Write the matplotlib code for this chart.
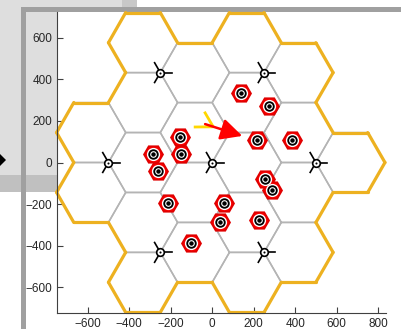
import matplotlib
matplotlib.use("Agg")
import matplotlib.pyplot as plt
from matplotlib.patches import Rectangle, Polygon
import numpy as np

# base stations (3-sector sites, inter-site distance 500)
bs_x = [0, 500, 250, -250, -500, -250, 250]
bs_y = [0, 0, 433, 433, 0, -433, -433]
R = 500 / 3.0
sector_angles = [0, 120, 240]

# users
ue_x = [140, 275, -154, 217, 386, -284, -149, -260, 255, 289, -212, 58, 39, 227, -101]
ue_y = [335, 272, 123, 108, 108, 41, 41, -41, -80, -133, -195, -195, -287, -277, -388]

# beam indication (yellow V and red arrow)
v_x = [-34, 5, -82]
v_y = [239, 172, 171]
arrow_start = (-34, 185)
arrow_end = (145, 128)

xticks = [-600, -400, -200, 0, 200, 400, 600, 800]
yticks = [-600, -400, -200, 0, 200, 400, 600]

W, H = 401, 329
fig = plt.figure(figsize=(W / 100, H / 100), dpi=100)
fig.patch.set_facecolor('white')


def px_rect(x0, y0, x1, y1, color, z=-2):
    fig.add_artist(Rectangle((x0 / W, 1 - y1 / H), (x1 - x0) / W, (y1 - y0) / H,
                             transform=fig.transFigure, facecolor=color,
                             edgecolor='none', zorder=z))


# window-like background pieces
px_rect(0, 0, 122, 175, '#dedede')
px_rect(122, 0, 137, 7, '#c8c8c8')
px_rect(0, 175, 57, 192, '#c0c0c0')
px_rect(21, 7, 401, 12, '#a0a0a0', z=-1)
px_rect(21, 7, 26, 329, '#a0a0a0', z=-1)
fig.add_artist(Polygon([(-6 / W, 1 - 160 / H), (0, 1 - 154 / H), (6 / W, 1 - 160 / H), (0, 1 - 166 / H)],
                       closed=True, transform=fig.transFigure, facecolor='black',
                       edgecolor='none', zorder=-1))

ax = fig.add_axes([57 / W, 1 - 313 / H, (386 - 57) / W, (313 - 12) / H])
ax.set_facecolor('white')

# hexagonal cells: each site sits on a vertex shared by its three sectors
edges = {}
for bx, by in zip(bs_x, bs_y):
    for a in sector_angles:
        cx = bx + R * np.cos(np.radians(a))
        cy = by + R * np.sin(np.radians(a))
        vx = cx + R * np.cos(np.radians(np.arange(0, 361, 60)))
        vy = cy + R * np.sin(np.radians(np.arange(0, 361, 60)))
        ax.plot(vx, vy, color='#b4b4b4', lw=1.1, zorder=1)
        for k in range(6):
            p = (round(vx[k]), round(vy[k]))
            q = (round(vx[k + 1]), round(vy[k + 1]))
            key = tuple(sorted([p, q]))
            edges[key] = edges.get(key, 0) + 1

for (p, q), n in edges.items():
    if n == 1:
        ax.plot([p[0], q[0]], [p[1], q[1]], color='#EDB120', lw=2.3,
                solid_capstyle='round', zorder=2, clip_on=False)

# base station markers with sector boresights
for bx, by in zip(bs_x, bs_y):
    for a in sector_angles:
        ax.plot([bx, bx + 55 * np.cos(np.radians(a))],
                [by, by + 55 * np.sin(np.radians(a))], color='black', lw=1.2, zorder=3)
    ax.plot(bx, by, 'o', ms=5.5, mfc='white', mec='black', mew=1.2, zorder=4)
    ax.plot(bx, by, 'o', ms=1.5, mfc='black', mec='none', zorder=4)

# users
ax.plot(ue_x, ue_y, 'H', ms=13.5, mfc='red', mec='#e00000', mew=1.4, ls='none', zorder=5)
ax.plot(ue_x, ue_y, 'o', ms=9.5, mfc='white', mec='none', ls='none', zorder=6)
ax.plot(ue_x, ue_y, 'o', ms=7.5, mfc='black', mec='none', ls='none', zorder=7)
ax.plot(ue_x, ue_y, 'o', ms=4, mfc='black', mec='white', mew=0.8, ls='none', zorder=8)

# beam direction
ax.plot(v_x, v_y, color='#FFD700', lw=2, zorder=9)
ax.annotate('', xy=arrow_end, xytext=arrow_start,
            arrowprops=dict(arrowstyle='-|>,head_length=1.3,head_width=0.65',
                            color='red', lw=1.8, shrinkA=0, shrinkB=0), zorder=10)

ax.set_xlim(-748, 838)
ax.set_ylim(-725, 725)
ax.set_xticks(xticks)
ax.set_yticks(yticks)
for s in ['top', 'right']:
    ax.spines[s].set_visible(False)
for s in ['left', 'bottom']:
    ax.spines[s].set_color('#404040')
    ax.spines[s].set_linewidth(0.8)
ax.tick_params(direction='in', length=4, width=0.8, colors='#404040',
               labelcolor='#262626', labelsize=8.5)
for lab in ax.get_xticklabels() + ax.get_yticklabels():
    lab.set_family('Liberation Sans')

fig.savefig('out.png', dpi=100)
